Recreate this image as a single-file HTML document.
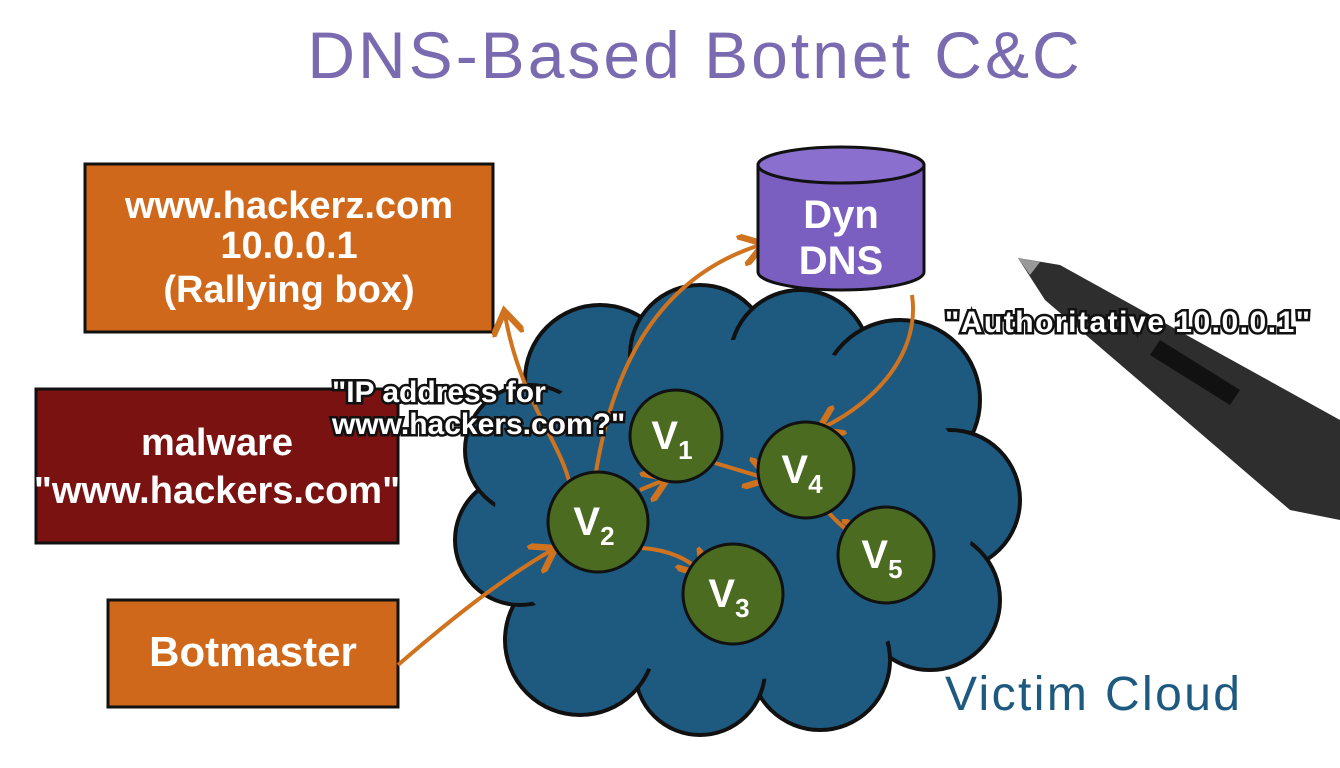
<!DOCTYPE html>
<html><head><meta charset="utf-8"><style>
html,body{margin:0;padding:0;background:#fff;width:1340px;height:768px;overflow:hidden}
svg{display:block}
text{font-family:"Liberation Sans",sans-serif}
</style></head><body>
<svg width="1340" height="768" viewBox="0 0 1340 768">
<defs>
<marker id="ah" markerWidth="8" markerHeight="8" refX="5" refY="4" orient="auto" markerUnits="strokeWidth">
<path d="M0,0 L6,4 L0,8" fill="none" stroke="#d0731f" stroke-width="1.6"/>
</marker>
</defs>
<text x="695" y="78" text-anchor="middle" font-size="66" fill="#7a6bb0" letter-spacing="3">DNS-Based Botnet C&amp;C</text>

<rect x="85" y="164" width="408" height="168" fill="#d0681c" stroke="#111" stroke-width="3"/>
<g fill="#fff" font-size="38" text-anchor="middle" font-weight="bold">
<text x="289" y="218">www.hackerz.com</text>
<text x="289" y="258">10.0.0.1</text>
<text x="289" y="302">(Rallying box)</text>
</g>
<rect x="36" y="389" width="362" height="154" fill="#7a1212" stroke="#111" stroke-width="3"/>
<g fill="#fff" font-size="38" text-anchor="middle" font-weight="bold">
<text x="217" y="455">malware</text>
<text x="217" y="503">"www.hackers.com"</text>
</g>
<rect x="108" y="600" width="290" height="107" fill="#d0681c" stroke="#111" stroke-width="3"/>
<text x="253" y="666" fill="#fff" font-size="42" font-weight="bold" text-anchor="middle">Botmaster</text>

<g fill="#1e5a80" stroke="#111" stroke-width="4">
<circle cx="600" cy="380" r="75"/><circle cx="700" cy="355" r="70"/><circle cx="800" cy="360" r="70"/>
<circle cx="900" cy="400" r="80"/><circle cx="950" cy="500" r="70"/><circle cx="930" cy="600" r="70"/>
<circle cx="820" cy="660" r="70"/><circle cx="700" cy="670" r="65"/><circle cx="580" cy="640" r="75"/>
<circle cx="520" cy="540" r="65"/><circle cx="530" cy="450" r="65"/>
</g>
<g fill="#1e5a80"><ellipse cx="735" cy="510" rx="240" ry="170"/></g>

<g fill="none" stroke="#d0731f" stroke-width="4" marker-end="url(#ah)">
<path d="M398,665 C450,620 500,580 552,550"/>
<path d="M570,485 C560,440 520,400 505,315"/>
<path d="M595,478 C610,380 650,280 760,245"/>
<path d="M640,490 L664,480"/>
<path d="M715,463 L765,478"/>
<path d="M642,548 C670,550 690,560 700,572"/>
<path d="M828,512 C840,525 850,535 862,535"/>
<path d="M912,295 C920,350 880,400 822,428"/>
</g>

<g fill="#4a6b20" stroke="#111" stroke-width="3">
<circle cx="598" cy="522" r="50"/><circle cx="676" cy="436" r="46"/><circle cx="806" cy="470" r="48"/>
<circle cx="733" cy="594" r="50"/><circle cx="886" cy="555" r="48"/>
</g>
<g fill="#fff" font-size="40" text-anchor="middle" font-weight="bold">
<text x="594" y="535">V<tspan font-size="26" dy="10">2</tspan></text>
<text x="672" y="449">V<tspan font-size="26" dy="10">1</tspan></text>
<text x="802" y="483">V<tspan font-size="26" dy="10">4</tspan></text>
<text x="729" y="607">V<tspan font-size="26" dy="10">3</tspan></text>
<text x="882" y="568">V<tspan font-size="26" dy="10">5</tspan></text>
</g>

<path d="M758,165 L758,272 A83,18 0 0 0 924,272 L924,165 Z" fill="#7b5fc0" stroke="#111" stroke-width="3"/>
<ellipse cx="841" cy="165" rx="83" ry="18" fill="#8a6fcf" stroke="#111" stroke-width="3"/>
<g fill="#fff" font-size="40" text-anchor="middle" font-weight="bold">
<text x="841" y="228">Dyn</text><text x="841" y="274">DNS</text>
</g>

<path d="M1018,258 L1060,265 L1340,420 L1340,520 L1290,510 L1045,300 Z" fill="#2e2e2e"/>
<path d="M1018,258 L1040,262 L1030,275 Z" fill="#999"/>
<path d="M1160,340 L1240,390 L1230,405 L1150,355 Z" fill="#111"/>

<g font-size="30" font-weight="bold" fill="#fff" stroke="#111" stroke-width="5" paint-order="stroke">
<text x="332" y="402">"IP address for</text>
<text x="332" y="434">www.hackers.com?"</text>
<text x="945" y="332" textLength="365">"Authoritative 10.0.0.1"</text>
</g>
<text x="945" y="710" font-size="48" fill="#1e5a80" textLength="295">Victim Cloud</text>
</svg>
</body></html>
